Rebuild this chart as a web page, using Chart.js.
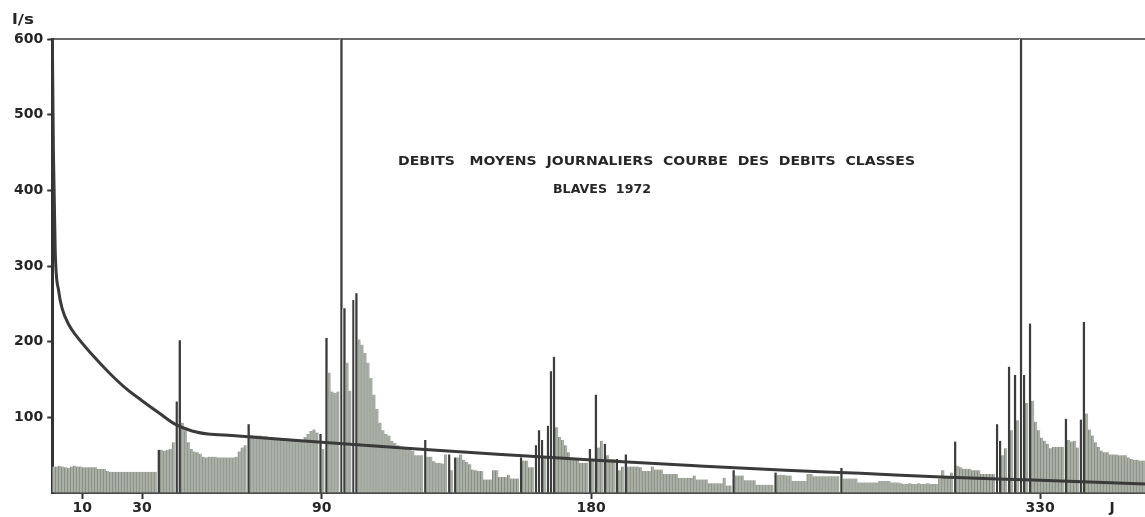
<!DOCTYPE html>
<html>
<head>
<meta charset="utf-8">
<script src="https://cdn.jsdelivr.net/npm/chart.js@4"></script>
<style>
  html, body { margin: 0; padding: 0; background: #fff; }
  #wrap { width: 1145px; height: 517px; }
</style>
</head>
<body>
<div id="wrap"><canvas id="chart"></canvas></div>
<script>
// Débits moyens journaliers (l/s), un par jour
const flow = [
  35, 35, 36, 35, 34, 33, 35, 36, 35, 35,
  34, 34, 34, 34, 34, 32, 32, 32, 29, 28,
  28, 28, 28, 28, 28, 28, 28, 28, 28, 28,
  28, 28, 28, 28, 28, 57, 57, 56, 57, 58,
  67, 121, 202, 93, 83, 67, 58, 55, 54, 52,
  48, 47, 48, 48, 48, 47, 47, 47, 47, 47,
  47, 48, 55, 60, 63, 91, 77, 76, 76, 76,
  75, 75, 74, 74, 73, 73, 72, 72, 72, 71,
  71, 71, 70, 70, 74, 78, 82, 84, 80, 78,
  58, 205, 159, 134, 132, 134, 900, 244, 172, 135,
  255, 264, 203, 196, 185, 172, 152, 130, 111, 93,
  83, 78, 76, 69, 66, 63, 58, 58, 58, 57,
  56, 50, 50, 50, 70, 48, 48, 42, 40, 40,
  39, 51, 51, 30, 47, 47, 51, 44, 41, 38,
  31, 30, 29, 29, 18, 18, 18, 30, 30, 21,
  21, 21, 24, 19, 19, 19, 47, 43, 43, 34,
  34, 63, 83, 70, 47, 89, 161, 180, 87, 74,
  70, 63, 54, 45, 45, 44, 40, 40, 40, 58,
  45, 130, 60, 69, 65, 50, 45, 45, 45, 30,
  35, 51, 35, 35, 35, 35, 34, 29, 29, 29,
  35, 31, 31, 31, 25, 25, 25, 25, 25, 20,
  20, 20, 20, 20, 23, 18, 18, 18, 18, 13,
  13, 13, 13, 13, 20, 10, 10, 30, 23, 23,
  23, 17, 17, 17, 17, 11, 11, 11, 11, 11,
  11, 27, 24, 24, 24, 23, 23, 16, 16, 16,
  16, 16, 25, 25, 22, 22, 22, 22, 22, 22,
  22, 22, 22, 33, 19, 19, 19, 19, 19, 14,
  14, 14, 14, 14, 14, 14, 16, 16, 16, 16,
  14, 14, 14, 13, 12, 12, 13, 12, 12, 13,
  12, 12, 13, 12, 12, 12, 19, 30, 21, 21,
  27, 68, 36, 34, 32, 32, 32, 30, 30, 30,
  25, 25, 25, 25, 25, 91, 69, 50, 59, 167,
  83, 156, 96, 900, 156, 119, 224, 122, 94, 83,
  73, 69, 65, 59, 61, 61, 61, 61, 98, 70,
  68, 69, 60, 97, 226, 105, 84, 76, 67, 61,
  56, 54, 54, 51, 51, 51, 50, 50, 50, 47,
  45, 44, 44, 43, 43
];
const days = flow.map((v, i) => i + 1);

// Courbe des débits classés (jour, l/s)
const curveDays = [0, 0.4, 1, 2.2, 3.3, 5.6, 7.8, 13.3, 19, 24.4, 30, 35.6, 41, 46.7, 52, 60, 90, 122, 150, 183, 215, 245, 270, 297, 330, 365];
const curveFlow = [620, 450, 320, 266, 244, 222, 209, 183, 159, 139, 122, 106, 91, 82, 78, 76, 67, 58, 51, 43, 36, 30, 26, 21, 17, 12];

const xTicks = [10, 30, 90, 180, 330];
const xEndLabel = 'J';
const xEndPos = 354;
const yTicks = [100, 200, 300, 400, 500, 600];

const TITLE1 = 'DEBITS   MOYENS  JOURNALIERS  COURBE  DES  DEBITS  CLASSES';
const TITLE2 = 'BLAVES  1972';
const UNIT = 'l/s';

const INK = '#262626';
const FONT = '"DejaVu Sans", "Liberation Sans", sans-serif';

// pics isolés : dessinés en trait foncé
function isPeak(i) {
  const v = flow[i];
  const lo = Math.min(i > 0 ? flow[i - 1] : v, i < flow.length - 1 ? flow[i + 1] : v);
  return v >= lo * 1.3 && v - lo > 12;
}

function spreadText(ctx, text, x, y, width) {
  const w = ctx.measureText(text).width;
  ctx.save();
  ctx.translate(x, y);
  ctx.scale(width / w, 1);
  ctx.fillText(text, 0, 0);
  ctx.restore();
}

const labelsPlugin = {
  id: 'labels',
  afterDraw(chart) {
    const ctx = chart.ctx;
    ctx.save();
    ctx.fillStyle = INK;
    ctx.textBaseline = 'alphabetic';
    ctx.font = 'bold 14px ' + FONT;
    spreadText(ctx, UNIT, 12, 24, 22);
    ctx.font = 'bold 12px ' + FONT;
    spreadText(ctx, TITLE1, 398, 165, 517);
    spreadText(ctx, TITLE2, 553, 193, 98);
    ctx.restore();
  }
};

new Chart(document.getElementById('chart'), {
  type: 'bar',
  data: {
    datasets: [
      {
        type: 'line',
        data: curveDays.map((d, i) => ({ x: d, y: curveFlow[i] })),
        borderColor: '#3a3a3a',
        borderWidth: 3,
        pointRadius: 0,
        cubicInterpolationMode: 'monotone',
        fill: false
      },
      {
        type: 'bar',
        data: days.map((d, i) => ({ x: d - 0.5, y: flow[i] })),
        backgroundColor: c => isPeak(c.dataIndex) ? '#3c3c3c' : '#aab0a6',
        borderColor: c => isPeak(c.dataIndex) ? '#ffffff' : '#858a81',
        borderWidth: { left: 1, top: 0, right: 0, bottom: 0 },
        borderSkipped: 'bottom',
        barPercentage: 1,
        categoryPercentage: 1
      }
    ]
  },
  options: {
    responsive: true,
    maintainAspectRatio: false,
    animation: false,
    layout: { padding: { left: 10, top: 39, right: 0, bottom: 0 } },
    plugins: { legend: { display: false }, tooltip: { enabled: false } },
    scales: {
      x: {
        type: 'linear',
        min: 0,
        max: 365,
        offset: false,
        afterBuildTicks: s => { s.ticks = xTicks.map(v => ({ value: v })).concat([{ value: xEndPos }]); },
        ticks: {
          autoSkip: false,
          maxRotation: 0,
          padding: 2,
          color: INK,
          font: { family: FONT, size: 14, weight: 'bold', lineHeight: 1 },
          callback: v => v === xEndPos ? xEndLabel : String(v)
        },
        grid: {
          offset: false,
          drawOnChartArea: false,
          tickLength: 6,
          tickWidth: 2,
          tickColor: c => (c.tick && c.tick.value === xEndPos) ? 'rgba(0,0,0,0)' : '#333'
        },
        border: { color: '#4a4a4a', width: 2 }
      },
      xTop: {
        type: 'linear',
        position: 'top',
        min: 0,
        max: 365,
        offset: false,
        ticks: { display: false },
        grid: { offset: false, drawOnChartArea: false, drawTicks: false },
        border: { color: '#6a6a6a', width: 2 }
      },
      y: {
        min: 0,
        max: 600,
        afterBuildTicks: s => { s.ticks = [0].concat(yTicks).map(v => ({ value: v })); },
        ticks: {
          padding: 4,
          color: INK,
          font: { family: FONT, size: 14, weight: 'bold', lineHeight: 1 },
          callback: v => v === 0 ? '' : String(v)
        },
        grid: {
          drawOnChartArea: false,
          tickLength: 5,
          tickWidth: 2,
          tickColor: c => (c.tick && c.tick.value === 0) ? 'rgba(0,0,0,0)' : '#333'
        },
        border: { color: '#333', width: 3 }
      }
    }
  },
  plugins: [labelsPlugin]
});
</script>
</body>
</html>
